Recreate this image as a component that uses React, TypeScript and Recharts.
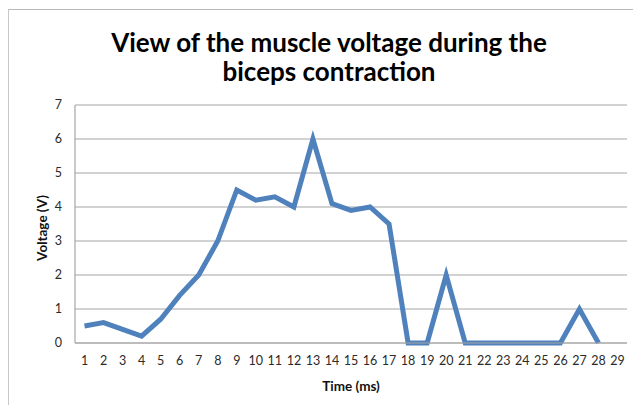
import React from 'react';
import { LineChart, Line, XAxis, YAxis, CartesianGrid } from 'recharts';

const times = ['1', '2', '3', '4', '5', '6', '7', '8', '9', '10', '11', '12', '13', '14', '15', '16', '17', '18', '19', '20', '21', '22', '23', '24', '25', '26', '27', '28', '29'];
const voltage: (number | null)[] = [0.5, 0.6, 0.4, 0.2, 0.7, 1.4, 2, 3, 4.5, 4.2, 4.3, 4, 6, 4.1, 3.9, 4, 3.5, 0, 0, 2, 0, 0, 0, 0, 0, 0, 1, 0, null];
const yTicks = [0, 1, 2, 3, 4, 5, 6, 7];

const data = times.map((t, i) => ({ t, v: voltage[i] }));

const font = 'Lato, "Open Sans", sans-serif';

const App: React.FC = () => {
  return (
    <div
      style={{
        position: 'relative',
        top: 1,
        width: 633,
        height: 396,
        borderTop: '1px solid #b8b8b8',
        borderLeft: '1px solid #c8c8c8',
        background: '#fff',
        fontFamily: font,
      }}
    >
      <div
        style={{
          position: 'absolute',
          left: 0,
          top: 18,
          width: 640,
          textAlign: 'center',
          fontSize: 26,
          fontWeight: 700,
          lineHeight: '29px',
          color: '#000',
        }}
      >
        View of the muscle voltage during the
        <br />
        biceps contraction
      </div>
      <div
        style={{
          position: 'absolute',
          left: 33,
          top: 218,
          transform: 'translate(-50%, -50%) rotate(-90deg)',
          fontSize: 13.5,
          fontWeight: 700,
          color: '#111',
          whiteSpace: 'nowrap',
        }}
      >
        Voltage (V)
      </div>
      <div
        style={{
          position: 'absolute',
          left: 342,
          top: 376,
          transform: 'translate(-50%, -50%)',
          fontSize: 13.5,
          fontWeight: 700,
          color: '#111',
          whiteSpace: 'nowrap',
        }}
      >
        Time (ms)
      </div>
      <LineChart
        width={633}
        height={396}
        data={data}
        margin={{ top: 95, right: 15, left: 36, bottom: 0 }}
        style={{ position: 'absolute', left: 0, top: 0 }}
      >
        <CartesianGrid vertical={false} stroke="#a6a6a6" strokeWidth={1.2} />
        <XAxis
          dataKey="t"
          interval={0}
          tickLine={false}
          axisLine={{ stroke: '#a6a6a6', strokeWidth: 1.2 }}
          padding={{ left: 9.5, right: 9.5 }}
          tick={{ fill: '#2a2a2a', fontSize: 12.5, fontFamily: font }}
          tickMargin={7}
          height={63}
        />
        <YAxis
          domain={[0, 7]}
          ticks={yTicks}
          interval={0}
          tickLine={false}
          axisLine={{ stroke: '#a6a6a6', strokeWidth: 1.2 }}
          tick={{ fill: '#2a2a2a', fontSize: 12.5, fontFamily: font }}
          tickMargin={7}
          width={30}
        />
        <Line
          type="linear"
          dataKey="v"
          stroke="#4f81bd"
          strokeWidth={5}
          strokeLinejoin="miter"
          dot={false}
          activeDot={false}
          connectNulls={false}
          isAnimationActive={false}
        />
      </LineChart>
    </div>
  );
};

export default App;
